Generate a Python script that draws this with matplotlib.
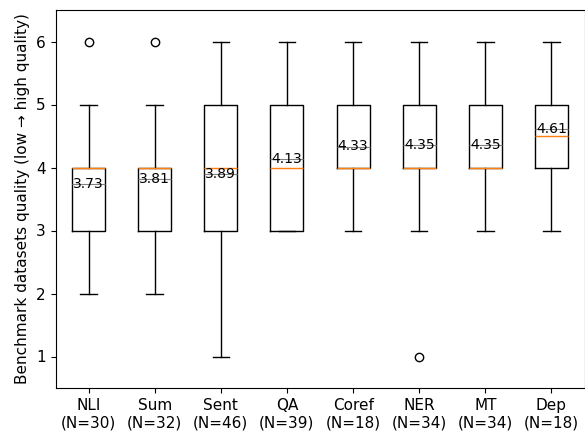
import numpy as np
import matplotlib
matplotlib.use("Agg")
import matplotlib.pyplot as plt

categories = ["NLI", "Sum", "Sent", "QA", "Coref", "NER", "MT", "Dep"]
scores = [1, 2, 3, 4, 5, 6]
# number of datasets rated at each quality score (1..6), per category
counts_nli = [0, 3, 8, 14, 4, 1]
counts_sum = [0, 2, 9, 15, 5, 1]
counts_sent = [2, 5, 11, 12, 10, 6]
counts_qa = [0, 0, 13, 13, 8, 5]
counts_coref = [0, 0, 3, 8, 5, 2]
counts_ner = [1, 0, 4, 14, 11, 4]
counts_mt = [0, 0, 6, 14, 10, 4]
counts_dep = [0, 0, 1, 8, 6, 3]
all_counts = [counts_nli, counts_sum, counts_sent, counts_qa,
              counts_coref, counts_ner, counts_mt, counts_dep]

data = [np.repeat(scores, c) for c in all_counts]
labels = [f"{c}\n(N={len(d)})" for c, d in zip(categories, data)]

plt.rcParams["font.size"] = 11

fig = plt.figure(figsize=(5.85, 4.34), dpi=100)
ax = fig.add_axes([55.5 / 585, 1 - 388 / 434, (584.5 - 55.5) / 585, (388 - 10) / 434])

ax.boxplot(data, tick_labels=labels, widths=0.5,
           showmeans=True, meanline=True,
           meanprops=dict(color="gray", linestyle="-", linewidth=0.8))

for i, d in enumerate(data, start=1):
    m = d.mean()
    ax.text(i, m, f"{m:.2f}", ha="center", va="center", fontsize=10)

ax.set_ylim(0.5, 6.5)
ax.set_xlim(0.5, 8.5)
ax.tick_params(labelsize=11)
ax.set_ylabel("Benchmark datasets quality (low \u2192 high quality)", fontsize=11)

fig.savefig("out.png", dpi=100)
